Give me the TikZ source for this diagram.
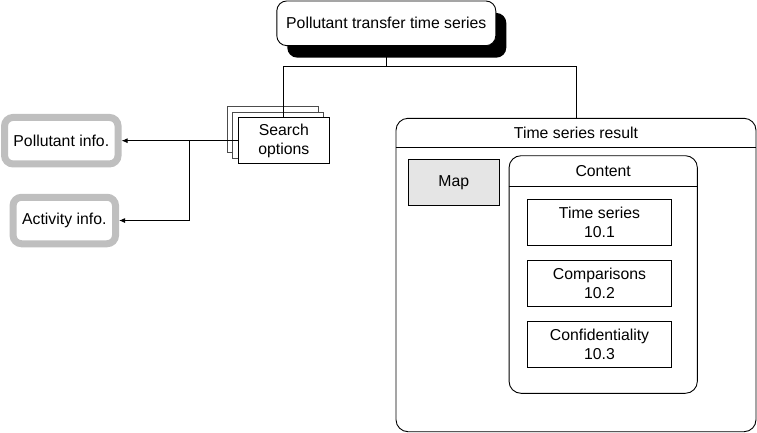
\documentclass[tikz,border=0pt]{standalone}
\usepackage{fontspec}
\setmainfont{Liberation Sans}
\usetikzlibrary{arrows.meta,shadows}
\begin{document}
\begin{tikzpicture}
[x=1pt,y=-1pt,line width=0.9pt,
  every node/.style={font=\fontsize{15.8}{18.5}\selectfont,inner sep=0pt},
  titledecorate/.style={shape=rectangle,draw,fill=white,rounded corners=10pt,%
    minimum width=219pt,minimum height=44.7pt,%
    drop shadow={shadow xshift=10.5pt,shadow yshift=-12pt,fill=black,opacity=1}},
  pagedecorate/.style={shape=rectangle,draw,fill=white,minimum width=91pt,minimum height=46pt},
  infodecorate/.style={shape=rectangle,draw=gray!50,line width=7pt,rounded corners=8.5pt,minimum height=46.5pt},
  framedecorate/.style={shape=rectangle,draw,rounded corners=12pt},
  boxdecorate/.style={shape=rectangle,draw,minimum width=144.4pt,minimum height=45.5pt,align=center},
  linedecorate/.style={-},
  arrowdecorate/.style={-{Latex[length=6pt,width=5pt]}}]
\useasboundingbox (0,0) rectangle (757,432);
%% title with its shadow
\node (title) at (386.3,23.3) [titledecorate] {Pollutant transfer time series};
%% search options, a stack of pages
\foreach \nodename/\shift in {search3/11.2, search2/5.6} {
  \node (\nodename) at (283.8-\shift,140.7-\shift) [pagedecorate,draw=black!70] {};
}
\node (search) at (283.8,140.7) [pagedecorate,align=center] {Search\\options};
%% info boxes
\node (pollutant) at (61.3,140.7) [infodecorate,minimum width=113.5pt] {Pollutant info.};
\node (activity) at (64.3,220.5) [infodecorate,minimum width=102.5pt] {Activity info.};
%% result frame
\node (result) at (576,275) [framedecorate,minimum width=360pt,minimum height=313.4pt] {};
\node (resulttitle) at (576,132.8) [minimum height=29pt] {Time series result};
\draw (result.west |- resulttitle.south) -- (result.east |- resulttitle.south);
\node (map) at (453.8,182.5) [draw,fill=gray!20,minimum width=91pt,minimum height=46.4pt] {Map};
%% content frame
\node (content) at (603.2,274.5) [framedecorate,minimum width=188.3pt,minimum height=237.6pt] {};
\node (contenttitle) at (603.2,170.85) [minimum height=30.3pt] {Content};
\draw (content.west |- contenttitle.south) -- (content.east |- contenttitle.south);
\foreach \nodename/\y/\boxtext/\boxnum in {timeseries/222.2/Time series/10.1,
    comparisons/283.3/Comparisons/10.2, confidentiality/344.3/Confidentiality/10.3} {
  \node (\nodename) at (599.5,\y) [boxdecorate] {\boxtext\\\boxnum};
}
%% edges or lines
\coordinate (split) at (189,140.7);
\draw[linedecorate] (title.south) -- ++(0,20.3) coordinate (fork) -| (search.north);
\draw[linedecorate] (fork) -| (result.north);
\draw[arrowdecorate] (search.west) -- (pollutant.east);
\draw[arrowdecorate] (split) |- (activity.east);
\end{tikzpicture}
\end{document}
